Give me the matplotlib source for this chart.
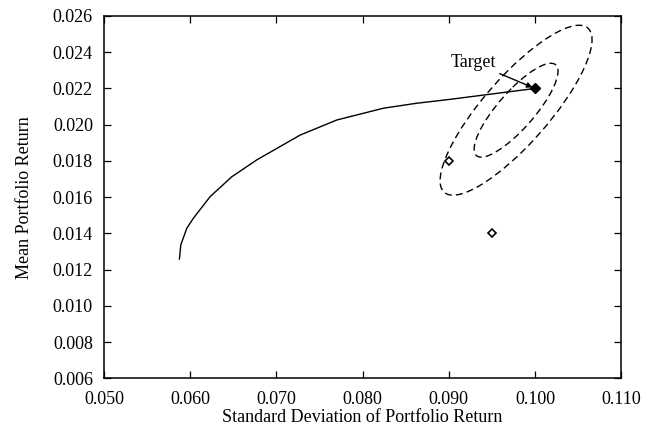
import numpy as np
import matplotlib
matplotlib.use("Agg")
from matplotlib import pyplot as plt
from matplotlib.patches import Ellipse
from matplotlib.ticker import FormatStrFormatter

plt.rcParams['font.family'] = ['Liberation Serif', 'DejaVu Serif']
plt.rcParams['font.size'] = 13

# efficient frontier
frontier_sd = [0.05874, 0.05890, 0.05960, 0.06036, 0.06230, 0.06482, 0.06772,
               0.07275, 0.0770, 0.08241, 0.0862, 0.09015, 0.1000]
frontier_mean = [0.01259, 0.01337, 0.01429, 0.01484, 0.01603, 0.01713, 0.01806,
                 0.01943, 0.02026, 0.02091, 0.02118, 0.02140, 0.0220]

# portfolios
target_sd, target_mean = 0.100, 0.022
point_sd = [0.090, 0.095]
point_mean = [0.018, 0.014]

# confidence ellipses (centre, spreads, correlation, scale levels)
ell_center = (0.0978, 0.0208)
ell_sd_x = 0.00487
ell_sd_y = 0.00259
ell_rho = 0.83
ell_levels = [1.0, 1.81]

fig = plt.figure(figsize=(6.63, 4.29), dpi=100)
ax = fig.add_axes([0.157, 0.1178, 0.78, 0.845])

ax.plot(frontier_sd, frontier_mean, color='black', lw=1.0)

cov = np.array([[ell_sd_x ** 2, ell_rho * ell_sd_x * ell_sd_y],
                [ell_rho * ell_sd_x * ell_sd_y, ell_sd_y ** 2]])
vals, vecs = np.linalg.eigh(cov)
angle = np.degrees(np.arctan2(vecs[1, 1], vecs[0, 1]))
for k in ell_levels:
    e = Ellipse(ell_center, 2 * k * np.sqrt(vals[1]), 2 * k * np.sqrt(vals[0]),
                angle=angle, fill=False, edgecolor='black', lw=1.0,
                linestyle=(0, (5, 3)))
    ax.add_patch(e)

ax.plot(point_sd, point_mean, linestyle='none', marker='D', markersize=4,
        markerfacecolor='white', markeredgecolor='black', markeredgewidth=1.2)
ax.plot([target_sd], [target_mean], linestyle='none', marker='D', markersize=5,
        color='black')

ax.annotate('Target', xy=(target_sd, target_mean), xytext=(0.0928, 0.02344),
            ha='center', va='center',
            arrowprops=dict(arrowstyle='-|>', color='black', lw=1.0,
                            mutation_scale=8, shrinkA=1, shrinkB=2))

ax.set_xlim(0.050, 0.110)
ax.set_ylim(0.006, 0.026)
ax.set_xticks(np.arange(0.050, 0.1101, 0.010))
ax.set_yticks(np.arange(0.006, 0.0261, 0.002))
ax.xaxis.set_major_formatter(FormatStrFormatter('%.3f'))
ax.yaxis.set_major_formatter(FormatStrFormatter('%.3f'))
ax.tick_params(direction='in', top=True, right=True, length=5, width=0.9)
ax.tick_params(axis='x', pad=9)
ax.tick_params(axis='y', pad=8)
for s in ax.spines.values():
    s.set_linewidth(1.1)

ax.set_xlabel('Standard Deviation of Portfolio Return', labelpad=1)
ax.set_ylabel('Mean Portfolio Return', labelpad=14)

fig.savefig('out.png', dpi=100)
